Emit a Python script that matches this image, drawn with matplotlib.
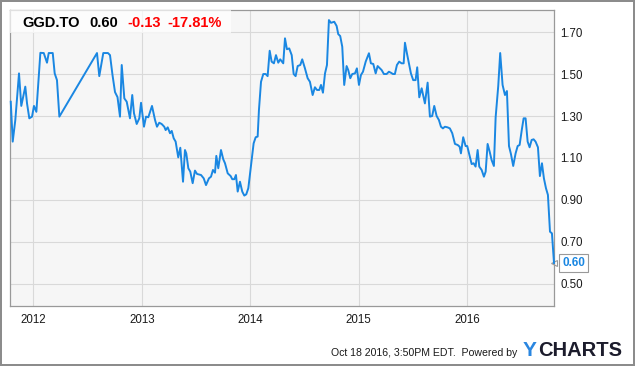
import matplotlib
matplotlib.use("Agg")
import matplotlib.pyplot as plt
from matplotlib.patches import Rectangle

plt.rcParams["font.family"] = ["Liberation Sans", "DejaVu Sans"]

# GGD.TO price, x in decimal years
dates = [
    2011.792, 2011.810, 2011.834, 2011.868, 2011.889, 2011.926, 2011.942, 2011.963, 2011.988,
    2012.006, 2012.028, 2012.065, 2012.096, 2012.126, 2012.142, 2012.179, 2012.197, 2012.218,
    2012.240, 2012.587, 2012.608, 2012.645, 2012.688, 2012.707, 2012.730, 2012.753, 2012.776,
    2012.799, 2012.815, 2012.839, 2012.861, 2012.891, 2012.912, 2012.928, 2012.953, 2012.977,
    2012.993, 2013.020, 2013.039, 2013.060, 2013.094, 2013.122, 2013.140, 2013.161, 2013.183,
    2013.207, 2013.220, 2013.239, 2013.260, 2013.276, 2013.294, 2013.312, 2013.336, 2013.355,
    2013.380, 2013.398, 2013.410, 2013.429, 2013.447, 2013.469, 2013.490, 2013.509, 2013.546,
    2013.571, 2013.592, 2013.619, 2013.638, 2013.656, 2013.675, 2013.687, 2013.705, 2013.730,
    2013.751, 2013.767, 2013.792, 2013.819, 2013.834, 2013.853, 2013.868, 2013.884, 2013.905,
    2013.926, 2013.945, 2013.963, 2013.982, 2014.006, 2014.031, 2014.050, 2014.068, 2014.080,
    2014.099, 2014.120, 2014.142, 2014.160, 2014.179, 2014.197, 2014.218, 2014.237, 2014.258,
    2014.276, 2014.304, 2014.320, 2014.338, 2014.359, 2014.382, 2014.400, 2014.418, 2014.437,
    2014.461, 2014.479, 2014.504, 2014.529, 2014.550, 2014.575, 2014.596, 2014.615, 2014.636,
    2014.652, 2014.670, 2014.689, 2014.707, 2014.725, 2014.744, 2014.774, 2014.796, 2014.811,
    2014.829, 2014.848, 2014.866, 2014.888, 2014.903, 2014.922, 2014.940, 2014.965, 2014.983,
    2015.002, 2015.020, 2015.039, 2015.064, 2015.094, 2015.112, 2015.134, 2015.156, 2015.174,
    2015.195, 2015.211, 2015.232, 2015.257, 2015.278, 2015.297, 2015.315, 2015.333, 2015.352,
    2015.373, 2015.395, 2015.414, 2015.426, 2015.444, 2015.463, 2015.481, 2015.502, 2015.524,
    2015.539, 2015.558, 2015.580, 2015.610, 2015.635, 2015.656, 2015.677, 2015.696, 2015.718,
    2015.739, 2015.758, 2015.776, 2015.794, 2015.819, 2015.840, 2015.862, 2015.887, 2015.912,
    2015.930, 2015.942, 2015.963, 2015.985, 2016.000, 2016.022, 2016.041, 2016.059, 2016.077,
    2016.096, 2016.111, 2016.133, 2016.154, 2016.170, 2016.188, 2016.207, 2016.225, 2016.246,
    2016.262, 2016.286, 2016.304, 2016.326, 2016.348, 2016.366, 2016.385, 2016.403, 2016.424,
    2016.446, 2016.465, 2016.483, 2016.504, 2016.520, 2016.538, 2016.557, 2016.575, 2016.594,
    2016.612, 2016.630, 2016.652, 2016.670, 2016.689, 2016.707, 2016.726, 2016.744, 2016.763,
    2016.781, 2016.800,
]
prices = [
    1.368, 1.178, 1.281, 1.503, 1.348, 1.440, 1.360, 1.289, 1.297,
    1.348, 1.320, 1.601, 1.600, 1.554, 1.600, 1.600, 1.503, 1.471,
    1.297, 1.600, 1.490, 1.600, 1.600, 1.590, 1.495, 1.414, 1.390,
    1.297, 1.543, 1.384, 1.368, 1.289, 1.400, 1.313, 1.262, 1.289,
    1.363, 1.249, 1.297, 1.294, 1.348, 1.281, 1.249, 1.268, 1.262,
    1.249, 1.233, 1.246, 1.218, 1.229, 1.194, 1.178, 1.103, 1.149,
    0.987, 1.138, 1.122, 1.051, 1.035, 0.980, 1.040, 1.024, 1.019,
    1.003, 0.971, 1.003, 1.011, 1.043, 1.030, 1.110, 1.051, 1.138,
    1.094, 1.075, 1.027, 1.014, 0.999, 0.999, 1.019, 0.940, 0.987,
    0.940, 0.921, 0.927, 0.956, 1.059, 1.170, 1.199, 1.202, 1.329,
    1.463, 1.500, 1.500, 1.490, 1.611, 1.559, 1.551, 1.590, 1.554,
    1.570, 1.551, 1.670, 1.618, 1.622, 1.590, 1.500, 1.490, 1.538,
    1.543, 1.570, 1.527, 1.480, 1.463, 1.400, 1.437, 1.424, 1.424,
    1.448, 1.411, 1.503, 1.543, 1.757, 1.744, 1.749, 1.729, 1.690,
    1.681, 1.630, 1.448, 1.538, 1.519, 1.480, 1.500, 1.503, 1.527,
    1.448, 1.495, 1.511, 1.559, 1.599, 1.551, 1.548, 1.503, 1.538,
    1.527, 1.519, 1.500, 1.500, 1.511, 1.506, 1.500, 1.500, 1.543,
    1.559, 1.551, 1.551, 1.649, 1.599, 1.551, 1.503, 1.471, 1.471,
    1.532, 1.389, 1.432, 1.360, 1.459, 1.297, 1.300, 1.348, 1.300,
    1.281, 1.249, 1.241, 1.249, 1.246, 1.241, 1.218, 1.167, 1.162,
    1.154, 1.122, 1.199, 1.157, 1.157, 1.110, 1.071, 1.075, 1.059,
    1.138, 1.059, 1.043, 1.011, 1.035, 1.167, 1.130, 1.090, 1.062,
    1.294, 1.443, 1.600, 1.448, 1.400, 1.419, 1.157, 1.119, 1.062,
    1.122, 1.157, 1.162, 1.237, 1.289, 1.289, 1.178, 1.151, 1.186,
    1.189, 1.178, 1.151, 1.014, 1.075, 1.003, 0.956, 0.924, 0.749,
    0.741, 0.600,
]

year_ticks = [2012, 2013, 2014, 2015, 2016]
price_ticks = [0.50, 0.70, 0.90, 1.10, 1.30, 1.50, 1.70]

ticker = "GGD.TO"
last = "0.60"
change = "-0.13"
change_pct = "-17.81%"

W, H = 635, 366
line_color = "#1a87e2"


def px(x, y):
    # pixel position (from top-left) -> figure fraction
    return x / W, 1 - y / H


fig = plt.figure(figsize=(W / 100, H / 100), dpi=100)
fig.patch.set_facecolor("white")
fig.patch.set_edgecolor("#8c8c8c")
fig.patch.set_linewidth(1.6)

ax = fig.add_axes([10 / W, (H - 306) / H, 544 / W, 296 / H])
ax.set_facecolor("#f6f6f6")

ax.plot(dates, prices, color=line_color, lw=1.4, solid_joinstyle="round", zorder=3, clip_on=False)

ax.set_xlim(2011.785, 2016.800)
ax.set_ylim(0.395, 1.805)

ax.set_xticks(year_ticks)
ax.set_xticklabels([str(y) for y in year_ticks])
ax.set_yticks(price_ticks)
ax.set_yticklabels(["%.2f" % v for v in price_ticks])
ax.yaxis.tick_right()
ax.tick_params(axis="both", length=0, labelsize=8.3, colors="#1a1a1a")
ax.tick_params(axis="x", pad=5.5)
ax.tick_params(axis="y", pad=4.5)

ax.grid(True, color="#d9d9d9", lw=0.8)
ax.set_axisbelow(True)
for s in ax.spines.values():
    s.set_color("#999999")
    s.set_linewidth(0.9)

# header box with quote
ax.add_patch(Rectangle(px(10, 33), 221 / W, 23 / H, transform=fig.transFigure,
                       facecolor="white", alpha=0.7, edgecolor="none", zorder=5))
fig.text(*px(22, 23), ticker, fontsize=10.5, fontweight="bold", color="black", va="center", zorder=6)
fig.text(*px(89, 23), last, fontsize=10.5, fontweight="bold", color="black", va="center", zorder=6)
fig.text(*px(127, 23), change, fontsize=10.5, fontweight="bold", color="#ff0000", va="center", zorder=6)
fig.text(*px(167, 23), change_pct, fontsize=10.5, fontweight="bold", color="#ff0000", va="center", zorder=6)

# last value tag
ax.annotate(last, xy=(1, prices[-1]), xycoords=("axes fraction", "data"),
            xytext=(6, 0), textcoords="offset points", ha="left", va="center",
            fontsize=8.5, fontweight="bold", color=line_color, annotation_clip=False,
            bbox=dict(boxstyle="square,pad=0.25", facecolor="white", edgecolor="#999999", lw=0.8))
ax.plot([1.0], [prices[-1]], marker="<", ms=5, mfc="white", mec="#999999", mew=0.8,
        transform=ax.get_yaxis_transform(), clip_on=False, zorder=2)

# footer
fig.text(*px(331, 353), "Oct 18 2016, 3:50PM EDT.  Powered by", fontsize=7.55, color="#1a1a1a", va="center")
fig.text(*px(523, 351), "Y", fontsize=15, fontweight="bold", color="#2a86e0", va="center")
fig.text(*px(538.5, 351), "CHARTS", fontsize=14.5, fontweight="bold", color="#1c1c2c", va="center")

fig.savefig("out.png", dpi=100, facecolor=fig.get_facecolor(), edgecolor=fig.get_edgecolor())
